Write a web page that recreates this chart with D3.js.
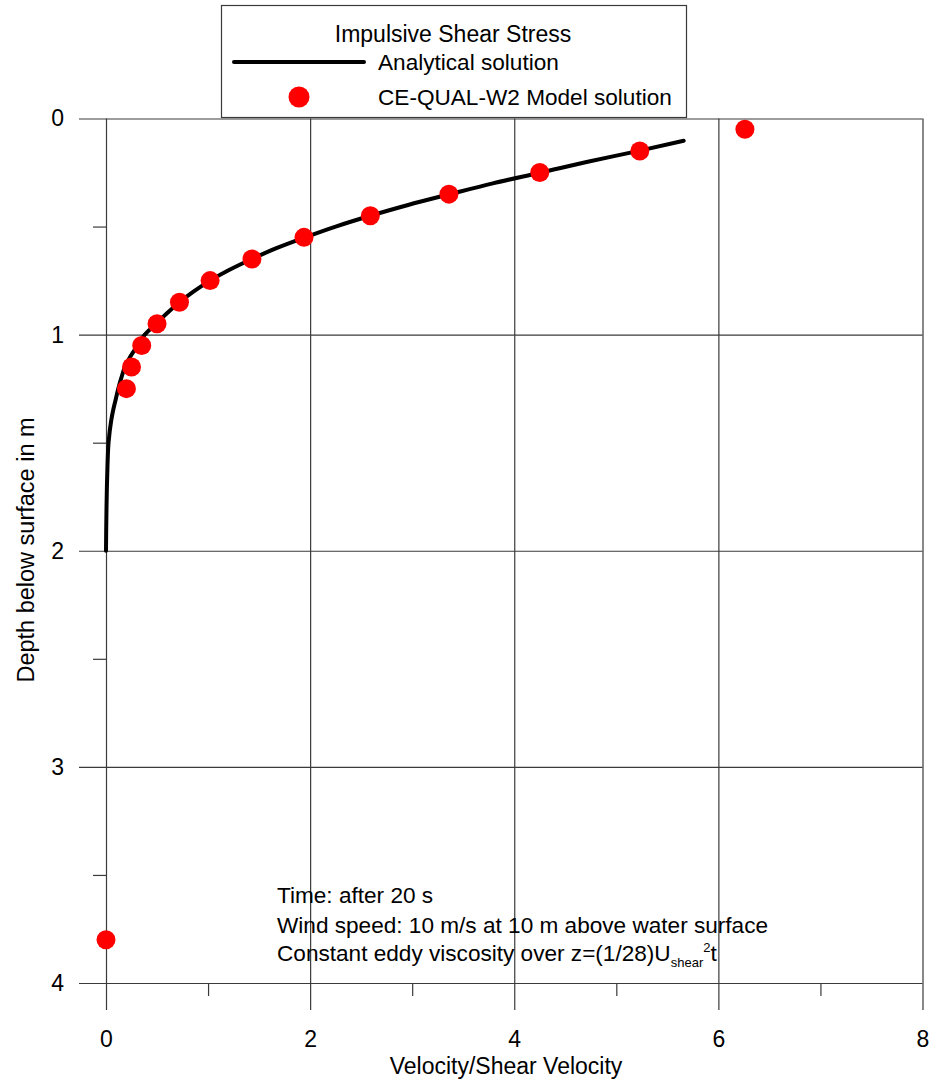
<!DOCTYPE html>
<html>
<head>
<meta charset="utf-8">
<script src="https://cdn.jsdelivr.net/npm/d3@7"></script>
<style>
  html, body { margin: 0; padding: 0; background: #fff; }
  svg { display: block; font-family: "Liberation Sans", Arial, sans-serif; }
</style>
</head>
<body>
<svg id="chart" width="929" height="1082"></svg>
<script>
// ---- Data ----
// Analytical solution: depth (m) vs velocity/shear velocity
const analyticalDepth = [0.103, 0.15, 0.2, 0.25, 0.3, 0.35, 0.4, 0.45, 0.5, 0.55, 0.6, 0.65, 0.7, 0.75, 0.8, 0.85, 0.9, 0.95, 1.0, 1.05, 1.1, 1.15, 1.2, 1.25, 1.3, 1.35, 1.4, 1.5, 1.6, 1.7, 1.8, 1.9, 2.0];
const analyticalVel   = [5.66, 5.22, 4.72, 4.26, 3.79, 3.37, 2.96, 2.59, 2.25, 1.95, 1.67, 1.43, 1.21, 1.02, 0.86, 0.72, 0.60, 0.49, 0.38, 0.31, 0.24, 0.185, 0.15, 0.12, 0.095, 0.07, 0.05, 0.025, 0.015, 0.009, 0.005, 0.002, 0.0];
// CE-QUAL-W2 model solution
const modelDepth = [0.05, 0.15, 0.25, 0.35, 0.45, 0.55, 0.65, 0.75, 0.85, 0.95, 1.05, 1.15, 1.25, 3.8];
const modelVel   = [6.26, 5.23, 4.25, 3.36, 2.59, 1.94, 1.43, 1.02, 0.72, 0.50, 0.35, 0.25, 0.20, 0.0];
// Axis ticks
const xMajorTicks = [0, 2, 4, 6, 8];
const xMinorTicks = [1, 3, 5, 7];
const yMajorTicks = [0, 1, 2, 3, 4];
const yMinorTicks = [0.5, 1.5, 2.5, 3.5];
// Texts
const legendTitle = "Impulsive Shear Stress";
const seriesNames = ["Analytical solution", "CE-QUAL-W2 Model solution"];
const xTitle = "Velocity/Shear Velocity";
const yTitle = "Depth below surface in m";

// ---- Layout ----
const svg = d3.select("#chart");
const L = 106, R = 922.5, T = 118.5, B = 983;
const majorLen = 27, minorLen = 13;
const fontSize = 23;
const textSize = 22.6;
const gridColor = "#3a3a3a";

const x = d3.scaleLinear().domain([0, 8]).range([L, R]);
const y = d3.scaleLinear().domain([0, 4]).range([T, B]);

// Gridlines (extend outward as major ticks)
const g = svg.append("g");
g.append("g")
  .attr("transform", `translate(0,${T})`)
  .call(d3.axisBottom(x).tickValues(xMajorTicks).tickSize(B - T + majorLen).tickFormat(""))
  .call(s => s.select(".domain").remove())
  .call(s => s.selectAll("line").attr("stroke", gridColor).attr("stroke-width", 1.2));
g.append("g")
  .attr("transform", `translate(${R},0)`)
  .call(d3.axisLeft(y).tickValues(yMajorTicks).tickSize(R - L + majorLen).tickFormat(""))
  .call(s => s.select(".domain").remove())
  .call(s => s.selectAll("line").attr("stroke", gridColor).attr("stroke-width", 1.2));

// minor ticks
g.append("g")
  .attr("transform", `translate(0,${B})`)
  .call(d3.axisBottom(x).tickValues(xMinorTicks).tickSize(minorLen).tickFormat(""))
  .call(s => s.select(".domain").remove())
  .call(s => s.selectAll("line").attr("stroke", gridColor).attr("stroke-width", 1.2));
g.append("g")
  .attr("transform", `translate(${L},0)`)
  .call(d3.axisLeft(y).tickValues(yMinorTicks).tickSize(minorLen).tickFormat(""))
  .call(s => s.select(".domain").remove())
  .call(s => s.selectAll("line").attr("stroke", gridColor).attr("stroke-width", 1.2));

// tick labels
const xAxisG = svg.append("g")
  .attr("transform", `translate(0,${B})`)
  .call(d3.axisBottom(x).tickValues(xMajorTicks).tickSize(majorLen).tickPadding(21).tickFormat(d3.format("d")));
xAxisG.select(".domain").remove();
xAxisG.selectAll("line").remove();
xAxisG.selectAll("text").attr("font-size", fontSize).attr("font-family", "Liberation Sans, Arial, sans-serif").attr("fill", "#000");

const yAxisG = svg.append("g")
  .attr("transform", `translate(${L},0)`)
  .call(d3.axisLeft(y).tickValues(yMajorTicks).tickSize(majorLen).tickPadding(15).tickFormat(d3.format("d")));
yAxisG.select(".domain").remove();
yAxisG.selectAll("line").remove();
yAxisG.selectAll("text").attr("font-size", fontSize).attr("font-family", "Liberation Sans, Arial, sans-serif").attr("fill", "#000");

// axis titles
svg.append("text")
  .attr("x", 506).attr("y", 1074)
  .attr("text-anchor", "middle").attr("font-size", fontSize)
  .text(xTitle);
svg.append("text")
  .attr("transform", `translate(34,550) rotate(-90)`)
  .attr("text-anchor", "middle").attr("font-size", 23.5)
  .text(yTitle);

// ---- Series ----
const analytical = analyticalDepth.map((d, i) => ({ d, v: analyticalVel[i] }));
const model = modelDepth.map((d, i) => ({ d, v: modelVel[i] }));

const line = d3.line().x(p => x(p.v)).y(p => y(p.d)).curve(d3.curveMonotoneY);
svg.append("path")
  .datum(analytical)
  .attr("d", line)
  .attr("fill", "none").attr("stroke", "#000").attr("stroke-width", 4)
  .attr("stroke-linecap", "round");

svg.append("g").selectAll("circle")
  .data(model).join("circle")
  .attr("cx", p => x(p.v)).attr("cy", p => y(p.d))
  .attr("r", 9.5).attr("fill", "#ff0000");

// ---- Legend ----
const lg = svg.append("g");
lg.append("rect")
  .attr("x", 221.5).attr("y", 5.5).attr("width", 465).attr("height", 112)
  .attr("fill", "#fff").attr("stroke", gridColor).attr("stroke-width", 1.2);
lg.append("text").attr("x", 453).attr("y", 42).attr("text-anchor", "middle")
  .attr("font-size", fontSize).text(legendTitle);
lg.append("line").attr("x1", 234).attr("x2", 364).attr("y1", 62).attr("y2", 62)
  .attr("stroke", "#000").attr("stroke-width", 4).attr("stroke-linecap", "round");
lg.append("text").attr("x", 378).attr("y", 70).attr("font-size", textSize).text(seriesNames[0]);
lg.append("circle").attr("cx", 299).attr("cy", 97).attr("r", 10.5).attr("fill", "#ff0000");
lg.append("text").attr("x", 378).attr("y", 105).attr("font-size", textSize).text(seriesNames[1]);

// ---- Annotation ----
const ann = svg.append("g").attr("font-size", textSize);
ann.append("text").attr("x", 277).attr("y", 903).text("Time: after 20 s");
ann.append("text").attr("x", 277).attr("y", 933).text("Wind speed: 10 m/s at 10 m above water surface");
const t3 = ann.append("text").attr("x", 277).attr("y", 961);
t3.append("tspan").text("Constant eddy viscosity over z=(1/28)U");
t3.append("tspan").attr("font-size", 13).attr("dy", 6).text("shear");
t3.append("tspan").attr("font-size", 13).attr("dy", -15).text("2");
t3.append("tspan").attr("dy", 9).text("t");
</script>
</body>
</html>
